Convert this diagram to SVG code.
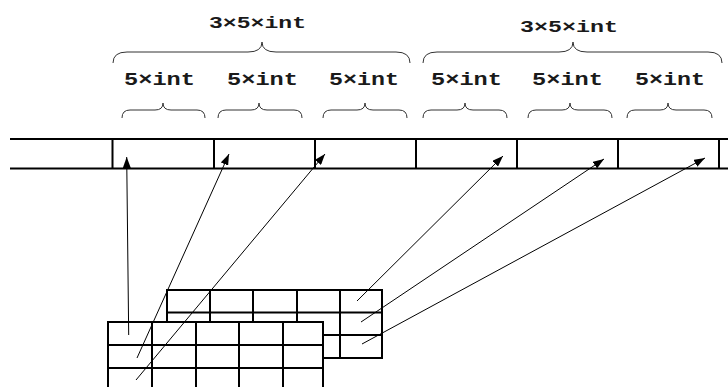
<svg xmlns="http://www.w3.org/2000/svg" width="728" height="387" viewBox="0 0 728 387">
<style>
.lbl{font-family:"Liberation Mono","DejaVu Sans Mono",monospace;font-weight:bold;fill:#1a1a1a}
.big{font-size:17px}
.small{font-size:19px}
.brace{fill:none;stroke:#333;stroke-width:1}
.bar{fill:none;stroke:#000;stroke-width:2}
.grid{fill:#fff;stroke:#000;stroke-width:2}
.gl{stroke:#000;stroke-width:2}
.arr{stroke:#000;stroke-width:1;fill:none;marker-end:url(#ah)}
</style>
<defs>
<marker id="ah" markerUnits="userSpaceOnUse" markerWidth="11" markerHeight="8" refX="11" refY="4" orient="auto">
<path d="M0,0 L11,4 L0,8 z" fill="#000"/>
</marker>
</defs>
<rect width="728" height="387" fill="#fff"/>

<g id="label-group1">
<text class="lbl big" x="209" y="28" textLength="97" lengthAdjust="spacingAndGlyphs">3×5×int</text>
<path class="brace" d="M113,63 Q113,52 127,52 L248,52 Q262,52 262,42 Q262,52 276,52 L396,52 Q410,52 410,63"/>
</g>
<g id="label-group2">
<text class="lbl big" x="520" y="32" textLength="98" lengthAdjust="spacingAndGlyphs">3×5×int</text>
<path class="brace" d="M423,63 Q423,52 437,52 L559,52 Q573,52 573,42 Q573,52 587,52 L708,52 Q722,52 722,63"/>
</g>

<g id="label-row1">
<text class="lbl small" x="124" y="85" textLength="71" lengthAdjust="spacingAndGlyphs">5×int</text>
<path class="brace" d="M122,118 Q122,110 130,110 L155,110 Q163,110 163,103 Q163,110 171,110 L197,110 Q205,110 205,118"/>
</g>
<g id="label-row2">
<text class="lbl small" x="227" y="85" textLength="71" lengthAdjust="spacingAndGlyphs">5×int</text>
<path class="brace" d="M218,118 Q218,110 226,110 L251,110 Q259,110 259,103 Q259,110 267,110 L294,110 Q302,110 302,118"/>
</g>
<g id="label-row3">
<text class="lbl small" x="329" y="85" textLength="70" lengthAdjust="spacingAndGlyphs">5×int</text>
<path class="brace" d="M323,118 Q323,110 331,110 L357,110 Q365,110 365,103 Q365,110 373,110 L399,110 Q407,110 407,118"/>
</g>
<g id="label-row4">
<text class="lbl small" x="431" y="85" textLength="71" lengthAdjust="spacingAndGlyphs">5×int</text>
<path class="brace" d="M423,118 Q423,110 431,110 L457,110 Q465,110 465,103 Q465,110 473,110 L499,110 Q507,110 507,118"/>
</g>
<g id="label-row5">
<text class="lbl small" x="532" y="85" textLength="71" lengthAdjust="spacingAndGlyphs">5×int</text>
<path class="brace" d="M528,118 Q528,110 536,110 L562,110 Q570,110 570,103 Q570,110 578,110 L604,110 Q612,110 612,118"/>
</g>
<g id="label-row6">
<text class="lbl small" x="635" y="85" textLength="70" lengthAdjust="spacingAndGlyphs">5×int</text>
<path class="brace" d="M627,118 Q627,110 635,110 L660,110 Q668,110 668,103 Q668,110 676,110 L704,110 Q712,110 712,118"/>
</g>

<g id="memory-bar">
<path class="bar" d="M10,139 H728 M10,168.5 H728 M112.5,139 V168.5 M214,139 V168.5 M315,139 V168.5 M416,139 V168.5 M517,139 V168.5 M618,139 V168.5 M719,139 V168.5"/>
</g>

<g id="array-back">
<rect class="grid" x="167" y="290" width="215" height="68"/>
<path class="gl" d="M167,312.5 H382 M167,335 H382 M210,290 V358 M253,290 V358 M297,290 V358 M340,290 V358"/>
</g>
<g id="array-front">
<rect class="grid" x="108" y="322" width="215" height="70"/>
<path class="gl" d="M108,345 H323 M108,368 H323 M152,322 V392 M196,322 V392 M239,322 V392 M283,322 V392"/>
</g>

<g id="connectors">
<line class="arr" x1="128.7" y1="335" x2="126.7" y2="157"/>
<line class="arr" x1="137" y1="358" x2="229" y2="154"/>
<line class="arr" x1="136" y1="380" x2="325" y2="154"/>
<line class="arr" x1="357" y1="301" x2="503" y2="156"/>
<line class="arr" x1="361" y1="322" x2="604" y2="159"/>
<line class="arr" x1="362" y1="344" x2="705" y2="158"/>
</g>
</svg>
